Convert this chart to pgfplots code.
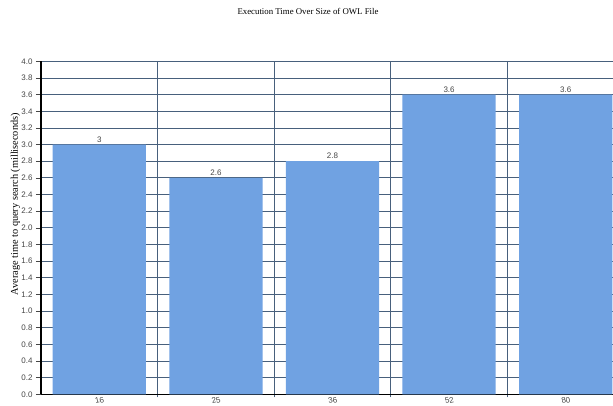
\documentclass[border=0pt]{standalone}
\usepackage{fontspec}
\setmainfont{Liberation Serif}
\setsansfont{Liberation Sans}
\usepackage{pgfplots}
\pgfplotsset{compat=1.18}

\definecolor{barblue}{RGB}{112,162,226}
\definecolor{gridline}{RGB}{72,96,124}
\definecolor{ticktext}{RGB}{70,70,70}

\begin{document}
\begin{tikzpicture}[x=1pt,y=1pt]
\begin{axis}[
  at={(41pt,10.7pt)}, anchor=south west,
  scale only axis,
  width=583pt, height=333pt,
  xmin=-0.5, xmax=4.5,
  ymin=0, ymax=4,
  xtick={0,1,2,3,4},
  xticklabels={16,25,36,52,80},
  minor xtick={0.5,1.5,2.5,3.5},
  major x tick style={draw=none},
  minor x tick style={gridline, line width=0.8pt},
  ytick={0,0.2,...,4.01},
  y tick style={ticktext, line width=0.6pt},
  tick align=outside,
  major tick length=5pt,
  minor tick length=3pt,
  xminorgrids=true, ymajorgrids=true,
  grid style={gridline, line width=0.8pt},
  minor grid style={gridline, line width=0.8pt},
  axis x line*=bottom, axis y line*=left,
  axis line style={black, line width=1.2pt, -},
  /pgf/number format/assume math mode=true,
  yticklabel style={/pgf/number format/.cd, fixed, fixed zerofill, precision=1},
  ticklabel style={font=\fontsize{8}{9}\selectfont\sffamily, text=ticktext},
  xticklabel style={rotate=12, anchor=north, yshift=3pt, inner sep=1pt},
  title={Execution Time Over Size of OWL File},
  title style={font=\fontsize{8.8}{10}\selectfont, at={(axis description cs:0.458,1.132)}, anchor=center},
  ylabel={Average time to query search (milliseconds)},
  ylabel style={font=\fontsize{10.3}{12}\selectfont, at={(axis description cs:-0.0437,0.571)}, anchor=center},
  ybar, bar width=0.8,
  nodes near coords,
  nodes near coords style={font=\fontsize{8}{9}\selectfont\sffamily, text=ticktext, fill=white, inner sep=1pt, anchor=south, yshift=1pt},
  clip=false,
]
\addplot[fill=barblue, draw=none] coordinates {
  (0,3.0) (1,2.6) (2,2.8) (3,3.6) (4,3.6)
};
\end{axis}
\pgfresetboundingbox
\path (0,0) rectangle (613,405);
\end{tikzpicture}
\end{document}
